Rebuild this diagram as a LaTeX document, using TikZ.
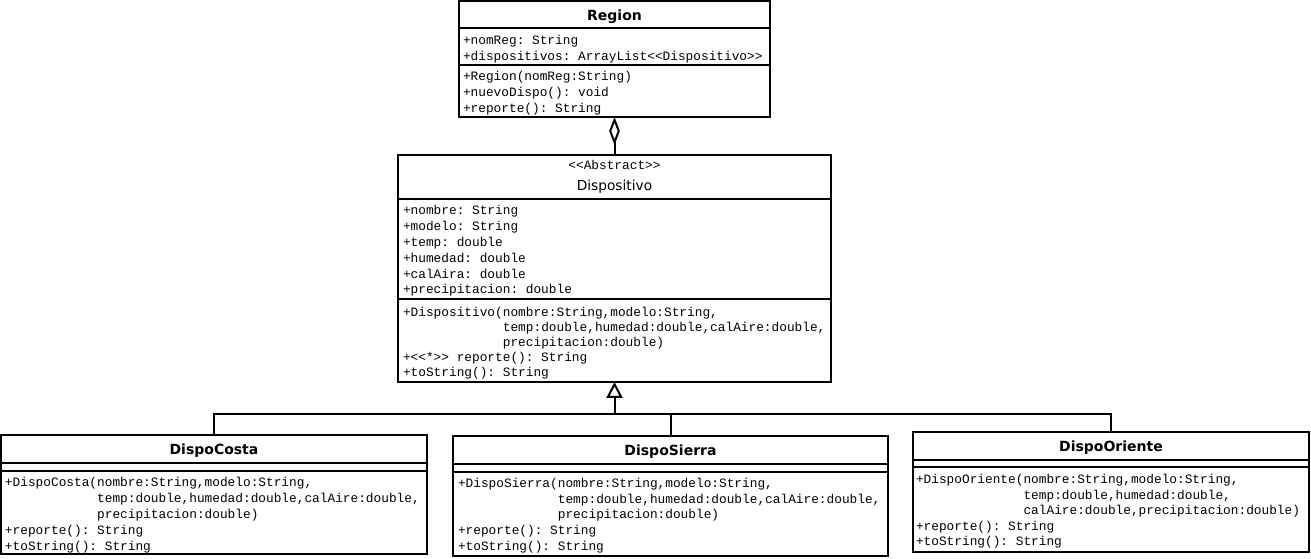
\documentclass[tikz,border=0pt]{standalone}
\usepackage{fontspec}
\setmainfont{DejaVu Sans}
\newfontfamily\umlmono{Liberation Mono}
\newfontfamily\umlsans{DejaVu Sans}
\usetikzlibrary{arrows.meta}
\newcommand\lgu{<\kern0pt<}
\newcommand\rgu{>\kern0pt>}
\frenchspacing
\begin{document}
\begin{tikzpicture}[x=0.75pt,y=-0.75pt,line width=1.5pt,
  umlbox/.style={draw,rectangle,inner sep=0pt,outer sep=0pt,line width=1.5pt},
  umltitle/.style={anchor=base,inner sep=0pt,font=\fontsize{10.5}{12}\selectfont\umlsans\bfseries},
  umlname/.style={anchor=base,inner sep=0pt,font=\fontsize{10.3}{12}\selectfont\umlsans},
  umlstereo/.style={anchor=base,inner sep=0pt,font=\fontsize{9.6}{12}\selectfont\umlmono\frenchspacing},
  umlcomp/.style={anchor=north west,inner sep=0pt,align=left,font=\fontsize{9.6}{#1}\selectfont\umlmono\frenchspacing},
  umlcomp/.default=12,
  divider/.style={line width=1.5pt}
]
\useasboundingbox (0,0) rectangle (1311,559);

% ---------- Region ----------
\node[umlbox,minimum width=233.25pt,minimum height=87pt] (region) at (614.5,59) {};
\node[umltitle] (regionT) at (614.5,21) {Region};
\draw[divider] (region.west |- 0,28) -- (region.east |- 0,28);
\draw[divider] (region.west |- 0,65) -- (region.east |- 0,65);
\node[umlcomp] (regionA) at (462,32.8) {\strut+nomReg: String\\+dispositivos: ArrayList\lgu Dispositivo\rgu};
\node[umlcomp] (regionM) at (462,68.8) {\strut+Region(nomReg:String)\\+nuevoDispo(): void\\+reporte(): String};

% ---------- Dispositivo ----------
\node[umlbox,minimum width=324.75pt,minimum height=170.25pt] (disp) at (614.5,268.5) {};
\node[umlstereo] (dispS) at (614.5,170) {\lgu Abstract\rgu};
\node[umlname] (dispT) at (614.5,191) {Dispositivo};
\draw[divider] (disp.west |- 0,199) -- (disp.east |- 0,199);
\draw[divider] (disp.west |- 0,299) -- (disp.east |- 0,299);
\node[umlcomp=11.85] (dispA) at (402,202.9) {\strut+nombre: String\\+modelo: String\\+temp: double\\+humedad: double\\+calAira: double\\+precipitacion: double};
\node[umlcomp=11.3] (dispM) at (402,304.5) {\strut+Dispositivo(nombre:String,modelo:String,\\
\phantom{+Dispositivo(}temp:double,humedad:double,calAire:double,\\
\phantom{+Dispositivo(}precipitacion:double)\\
+\lgu*\rgu{} reporte(): String\\+toString(): String};

% ---------- DispoCosta ----------
\node[umlbox,minimum width=319.5pt,minimum height=89.25pt] (costa) at (214,494.5) {};
\node[umltitle] (costaT) at (214,455) {DispoCosta};
\draw[divider] (costa.west |- 0,463) -- (costa.east |- 0,463);
\draw[divider] (costa.west |- 0,471) -- (costa.east |- 0,471);
\node[umlcomp] (costaM) at (4,474) {\strut+DispoCosta(nombre:String,modelo:String,\\
\phantom{+DispoCosta(}temp:double,humedad:double,calAire:double,\\
\phantom{+DispoCosta(}precipitacion:double)\\
+reporte(): String\\+toString(): String};

% ---------- DispoSierra ----------
\node[umlbox,minimum width=326.25pt,minimum height=90pt] (sierra) at (670.5,496) {};
\node[umltitle] (sierraT) at (670.5,456) {DispoSierra};
\draw[divider] (sierra.west |- 0,464) -- (sierra.east |- 0,464);
\draw[divider] (sierra.west |- 0,472) -- (sierra.east |- 0,472);
\node[umlcomp=11.8] (sierraM) at (457,475.5) {\strut+DispoSierra(nombre:String,modelo:String,\\
\phantom{+DispoSierra(}temp:double,humedad:double,calAire:double,\\
\phantom{+DispoSierra(}precipitacion:double)\\
+reporte(): String\\+toString(): String};

% ---------- DispoOriente ----------
\node[umlbox,minimum width=297pt,minimum height=90pt] (oriente) at (1111,492) {};
\node[umltitle] (orienteT) at (1111,452) {DispoOriente};
\draw[divider] (oriente.west |- 0,460) -- (oriente.east |- 0,460);
\draw[divider] (oriente.west |- 0,467) -- (oriente.east |- 0,467);
\node[umlcomp=11.6] (orienteM) at (915,472) {\strut+DispoOriente(nombre:String,modelo:String,\\
\phantom{+DispoOriente(}temp:double,humedad:double,\\
\phantom{+DispoOriente(}calAire:double,precipitacion:double)\\
+reporte(): String\\+toString(): String};

% ---------- Connectors ----------
\draw[-{Diamond[open,length=21pt,width=8pt]}] (disp.north) -- (region.south);
\coordinate (jn) at (614.5,414);
\draw[-{Triangle[open,length=12pt,width=12pt]}] (jn) -- (disp.south);
\draw (costa.north) |- (oriente.north |- jn) -- (oriente.north);
\draw (sierra.north) -- (sierra.north |- jn);
\end{tikzpicture}
\end{document}
